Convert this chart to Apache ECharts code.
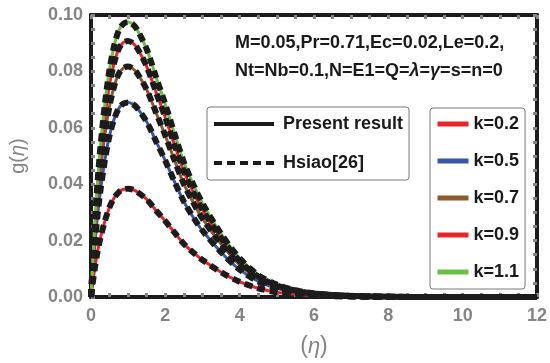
<!DOCTYPE html>
<html>
<head>
<meta charset="utf-8">
<script src="https://cdn.jsdelivr.net/npm/echarts@6/dist/echarts.min.js"></script>
<style>html,body{margin:0;padding:0;background:#fff;}#c{width:550px;height:363px;}</style>
</head>
<body>
<div id="c"></div>
<script>
// eta grid
var eta = [0, 0.05, 0.1, 0.175, 0.25, 0.375, 0.5, 0.625, 0.75, 0.875, 1, 1.125, 1.25, 1.5, 1.75, 2, 2.25, 2.5, 2.75, 3, 3.5, 4, 4.5, 5, 5.5, 6, 7, 8, 9, 10, 11, 12];
var g_k02 = [0, 0.0052, 0.0100, 0.0160, 0.0207, 0.0270, 0.0319, 0.0352, 0.0372, 0.0382, 0.0384, 0.0381, 0.0372, 0.0346, 0.0307, 0.0269, 0.0228, 0.0188, 0.0158, 0.0131, 0.0088, 0.0054, 0.0031, 0.0017, 0.0010, 0.0005, 0.00015, 0.00004, 0, 0, 0, 0];
var g_k05 = [0, 0.0094, 0.0180, 0.0288, 0.0373, 0.0486, 0.0573, 0.0632, 0.0669, 0.0686, 0.0690, 0.0684, 0.0669, 0.0621, 0.0552, 0.0483, 0.0408, 0.0338, 0.0283, 0.0235, 0.0159, 0.0097, 0.0055, 0.0031, 0.0017, 0.0009, 0.0003, 0.0001, 0, 0, 0, 0];
var g_k07 = [0, 0.0111, 0.0212, 0.0340, 0.0441, 0.0575, 0.0678, 0.0748, 0.0792, 0.0812, 0.0817, 0.0810, 0.0792, 0.0735, 0.0654, 0.0572, 0.0484, 0.0400, 0.0335, 0.0278, 0.0188, 0.0114, 0.0065, 0.0037, 0.0020, 0.0011, 0.0003, 0.0001, 0, 0, 0, 0];
var g_k09 = [0, 0.0123, 0.0236, 0.0378, 0.0490, 0.0639, 0.0754, 0.0831, 0.0881, 0.0903, 0.0908, 0.0900, 0.0881, 0.0817, 0.0726, 0.0636, 0.0538, 0.0445, 0.0372, 0.0309, 0.0209, 0.0127, 0.0073, 0.0041, 0.0023, 0.0012, 0.0004, 0.0001, 0, 0, 0, 0];
var g_k11 = [0, 0.0132, 0.0254, 0.0406, 0.0527, 0.0686, 0.0809, 0.0892, 0.0946, 0.0969, 0.0975, 0.0967, 0.0946, 0.0878, 0.0780, 0.0683, 0.0578, 0.0478, 0.0400, 0.0332, 0.0224, 0.0137, 0.0078, 0.0044, 0.0024, 0.0013, 0.0004, 0.0001, 0, 0, 0, 0];
var kNames = ['k=0.2', 'k=0.5', 'k=0.7', 'k=0.9', 'k=1.1'];
var kData = [g_k02, g_k05, g_k07, g_k09, g_k11];
var kColors = ['#e8242a', '#3a56a6', '#8e5a2b', '#e8242a', '#6cbf45'];

function pairs(ys) { return eta.map(function (x, i) { return [x, ys[i]]; }); }

var FONT = 'Liberation Sans, Arial, sans-serif';
var GREY = '#858585';
var FRAME = '#1c1c1c';

var series = [];
kData.forEach(function (d, i) {
  series.push({
    name: kNames[i], type: 'line', data: pairs(d), smooth: 0.3,
    showSymbol: false, symbol: 'none', z: 2,
    lineStyle: { color: kColors[i], width: 3 }, itemStyle: { color: kColors[i] }
  });
});
kData.forEach(function (d, i) {
  series.push({
    name: 'Hsiao[26]', type: 'line', data: pairs(d), smooth: 0.3,
    showSymbol: false, symbol: 'none', z: 3,
    lineStyle: { color: FRAME, width: 6, type: [8, 5] }, itemStyle: { color: FRAME }
  });
});
series.push({
  name: 'Present result', type: 'line', data: [], symbol: 'none',
  lineStyle: { color: FRAME, width: 3 }, itemStyle: { color: FRAME }
});

function axisCommon(extra) {
  var base = {
    axisLine: { show: true, onZero: false, lineStyle: { color: FRAME, width: 4 } },
    axisTick: { show: true, inside: true, length: 4, lineStyle: { color: GREY, width: 3 } },
    minorTick: { show: true, splitNumber: 4, length: 4, lineStyle: { color: GREY, width: 3 } },
    splitLine: { show: false }
  };
  for (var k in extra) base[k] = extra[k];
  return base;
}

var richI = { i: { fontStyle: 'italic', fontWeight: 'bold', fontSize: 18, fontFamily: FONT, fill: '#1a1a1a' } };

var chart = echarts.init(document.getElementById('c'), null, { renderer: 'canvas' });
chart.setOption({
  animation: false,
  backgroundColor: '#fff',
  grid: { left: 83, right: 7, top: 15, bottom: 64, containLabel: false },
  xAxis: [
    axisCommon({ type: 'value', position: 'bottom', min: 0, max: 12, interval: 2,
      axisLabel: { color: GREY, fontSize: 18, fontWeight: 'bold', fontFamily: FONT, margin: 10 },
      name: '{p|(}{e|\u03B7}{p|)}', nameLocation: 'middle', nameGap: 38,
      nameTextStyle: { rich: { p: { fontSize: 23, color: GREY, fontFamily: FONT }, e: { fontSize: 22, color: GREY, fontStyle: 'italic', fontFamily: FONT } } } }),
    axisCommon({ type: 'value', position: 'top', min: 0, max: 12, interval: 2, axisLabel: { show: false } })
  ],
  yAxis: [
    axisCommon({ type: 'value', position: 'left', min: 0, max: 0.1, interval: 0.02,
      axisLabel: { color: GREY, fontSize: 18, fontWeight: 'bold', fontFamily: FONT, margin: 8,
        formatter: function (v) { return v.toFixed(2); } },
      name: '{p|g(}{e|\u03B7}{p|)}', nameLocation: 'middle', nameGap: 63, nameRotate: 90,
      nameTextStyle: { rich: { p: { fontSize: 20, color: GREY, fontFamily: FONT }, e: { fontSize: 20, color: GREY, fontStyle: 'italic', fontFamily: FONT } } } }),
    axisCommon({ type: 'value', position: 'right', min: 0, max: 0.1, interval: 0.02, axisLabel: { show: false } })
  ],
  legend: [
    {
      data: ['Present result', 'Hsiao[26]'], orient: 'vertical', left: 207, top: 107,
      itemWidth: 60, itemHeight: 14, itemGap: 21, padding: [8, 6, 8, 5],
      itemStyle: { opacity: 0 }, lineStyle: { width: 4 },
      backgroundColor: '#fff', borderColor: '#777', borderWidth: 1, borderRadius: 3,
      textStyle: { color: '#1a1a1a', fontSize: 18, fontWeight: 'bold', fontFamily: FONT, padding: [0, 0, 0, 4] },
      selectedMode: false
    },
    {
      data: kNames, orient: 'vertical', left: 430, top: 108,
      itemWidth: 31, itemHeight: 14, itemGap: 19, padding: [7, 6, 8, 5],
      itemStyle: { opacity: 0 }, lineStyle: { width: 5 },
      backgroundColor: '#fff', borderColor: '#777', borderWidth: 1, borderRadius: 3,
      textStyle: { color: '#1a1a1a', fontSize: 18, fontWeight: 'bold', fontFamily: FONT },
      selectedMode: false
    }
  ],
  graphic: [
    { type: 'text', left: 235, top: 34, z: 10,
      style: { text: 'M=0.05,Pr=0.71,Ec=0.02,Le=0.2,', fill: '#1a1a1a', font: 'bold 18px ' + FONT } },
    { type: 'text', left: 235, top: 62, z: 10,
      style: { text: 'Nt=Nb=0.1,N=E1=Q={i|\u03BB}={i|\u03B3}=s=n=0', fill: '#1a1a1a', font: 'bold 18px ' + FONT,
        rich: richI } }
  ],
  series: series
});
</script>
</body>
</html>
